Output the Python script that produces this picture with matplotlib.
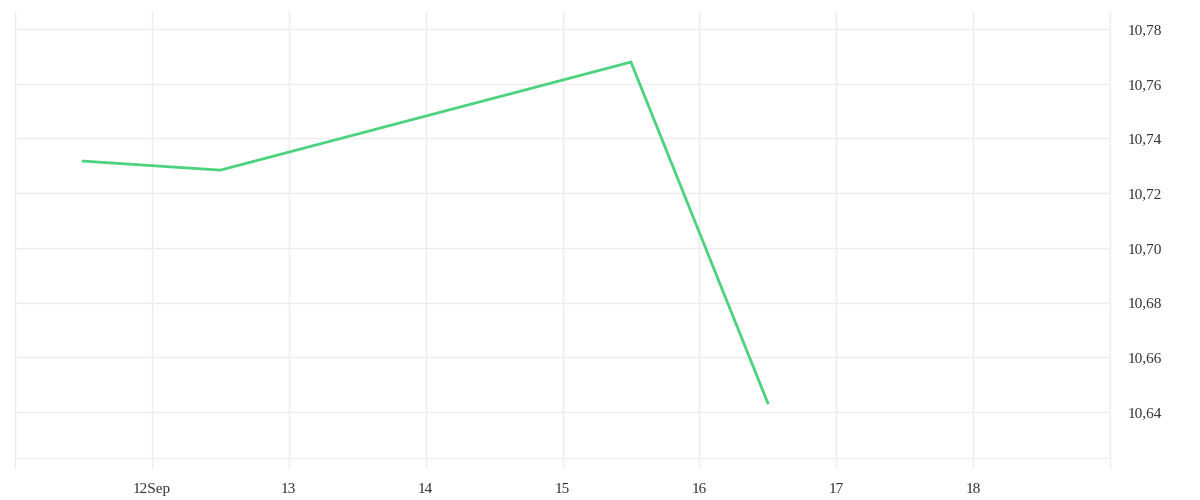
import datetime as dt
import matplotlib
matplotlib.use('Agg')
import matplotlib.pyplot as plt
import matplotlib.dates as mdates
from matplotlib.ticker import FuncFormatter, FixedLocator

# data
dates = [dt.datetime(2024, 9, 11, 12), dt.datetime(2024, 9, 12, 12),
         dt.datetime(2024, 9, 15, 12), dt.datetime(2024, 9, 16, 12)]
values = [10.7317, 10.7284, 10.7679, 10.6433]
y_ticks = [10.64, 10.66, 10.68, 10.70, 10.72, 10.74, 10.76, 10.78]
x_days = [dt.datetime(2024, 9, d) for d in range(11, 20)]

grid_col = '#ececec'
plt.rcParams['font.family'] = ['Liberation Serif', 'DejaVu Serif']

fig = plt.figure(figsize=(12, 5), dpi=100)
ax = fig.add_axes([0.0125, 0.084, 0.9125, 0.892])

ax.plot(dates, values, color='#4cd27e', lw=2, solid_joinstyle='miter')

ax.set_xlim(x_days[0], x_days[-1])
ax.set_ylim(10.6232, 10.7862)

ax.xaxis.set_major_locator(FixedLocator(mdates.date2num(x_days)))

def xfmt(v, pos):
    d = mdates.num2date(v)
    if d.day in (11, 19):
        return ''
    if d.day == 12:
        return '12Sep'
    return str(d.day)

ax.xaxis.set_major_formatter(FuncFormatter(xfmt))
ax.yaxis.set_major_locator(FixedLocator(y_ticks))
ax.yaxis.set_major_formatter(FuncFormatter(lambda v, p: f'{v:.2f}'.replace('.', ',')))
ax.yaxis.tick_right()

ax.tick_params(axis='x', length=7, color=grid_col, pad=11, labelsize=11, labelcolor='#333333')
ax.tick_params(axis='y', length=0, pad=13, labelsize=11, labelcolor='#333333')

ax.grid(True, color=grid_col, lw=1)
ax.set_axisbelow(True)
for s in ['left', 'right', 'bottom']:
    ax.spines[s].set_color(grid_col)
ax.spines['top'].set_visible(False)

fig.savefig('out.png', dpi=100)
